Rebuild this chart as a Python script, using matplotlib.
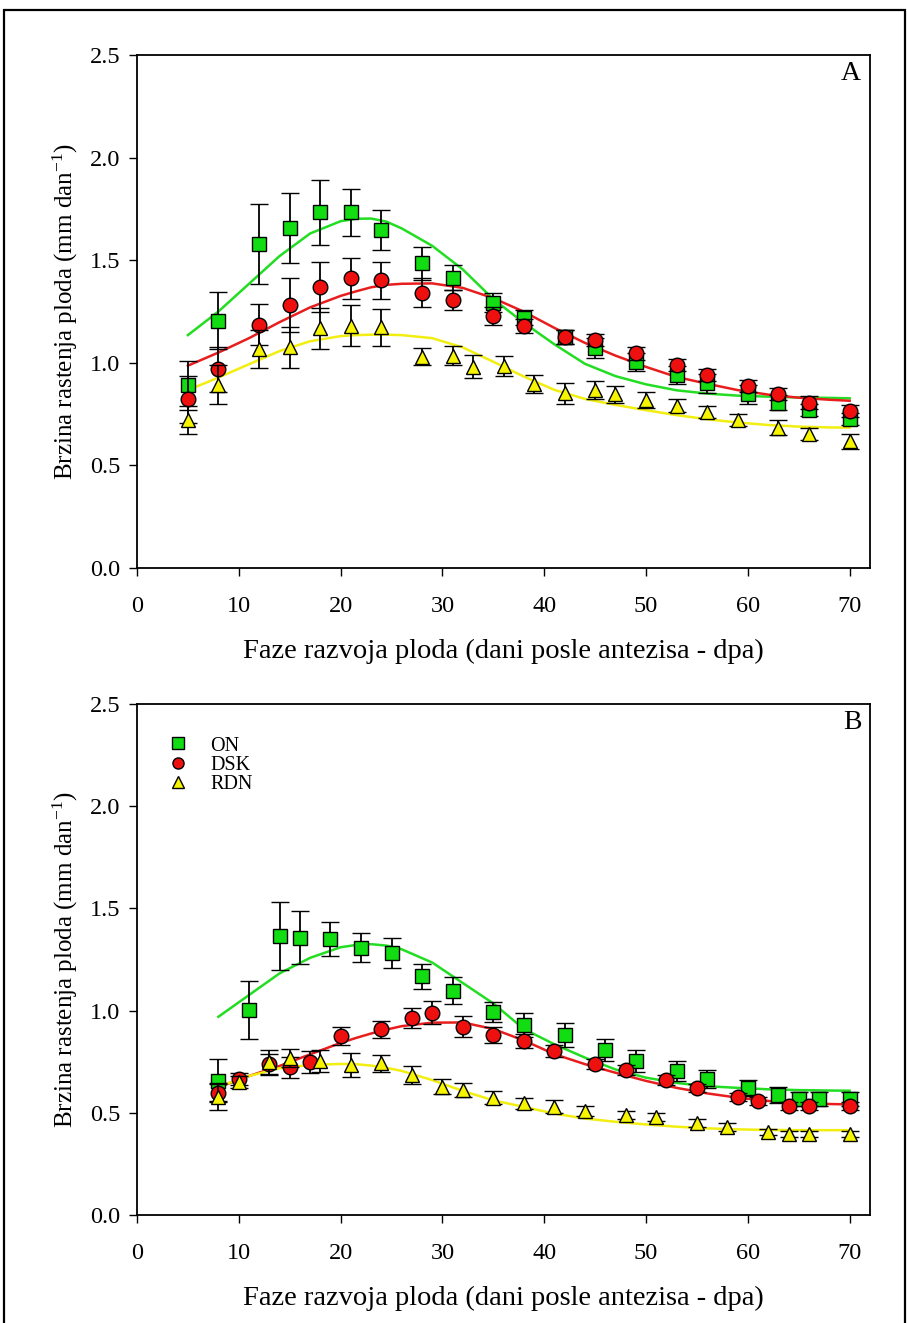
import numpy as np
import matplotlib
matplotlib.use('Agg')
import matplotlib.pyplot as plt
import matplotlib.patches as mpatches
from matplotlib.lines import Line2D

plt.rcParams['font.family'] = ['Liberation Serif', 'DejaVu Serif']
plt.rcParams['mathtext.fontset'] = 'custom'
plt.rcParams['mathtext.rm'] = 'Liberation Serif'
plt.rcParams['mathtext.it'] = 'Liberation Serif:italic'

# ── Panel A data ──────────────────────────────────────────────────────────────
a_on_x = [5, 8, 12, 15, 18, 21, 24, 28, 31, 35, 38, 42, 45, 49, 53, 56, 60, 63, 66, 70]
a_on_y = [0.89, 1.205, 1.58, 1.658, 1.733, 1.733, 1.647, 1.485, 1.415, 1.293, 1.22,
          1.127, 1.071, 1.005, 0.941, 0.90, 0.846, 0.806, 0.77, 0.725]
a_on_e = [0.12, 0.14, 0.195, 0.17, 0.158, 0.113, 0.098, 0.08, 0.062, 0.045, 0.035,
          0.035, 0.05, 0.045, 0.044, 0.046, 0.047, 0.036, 0.03, 0.03]

a_dsk_x = a_on_x
a_dsk_y = [0.822, 0.968, 1.186, 1.282, 1.369, 1.413, 1.402, 1.342, 1.305, 1.228, 1.179,
           1.127, 1.111, 1.046, 0.988, 0.939, 0.888, 0.848, 0.806, 0.764]
a_dsk_e = [0.115, 0.11, 0.1, 0.13, 0.12, 0.1, 0.09, 0.07, 0.05, 0.045, 0.035,
           0.035, 0.03, 0.03, 0.03, 0.03, 0.03, 0.03, 0.03, 0.03]

a_rdn_x = [5, 8, 12, 15, 18, 21, 24, 28, 31, 33, 36, 39, 42, 45, 47, 50, 53, 56, 59, 63, 66, 70]
a_rdn_y = [0.721, 0.892, 1.067, 1.075, 1.168, 1.181, 1.173, 1.03, 1.035, 0.981, 0.984,
           0.897, 0.851, 0.867, 0.846, 0.819, 0.791, 0.759, 0.72, 0.684, 0.653, 0.617]
a_rdn_e = [0.07, 0.095, 0.094, 0.1, 0.1, 0.1, 0.09, 0.04, 0.045, 0.055, 0.048,
           0.045, 0.05, 0.045, 0.04, 0.04, 0.033, 0.03, 0.03, 0.035, 0.03, 0.035]

# fitted curves
a_fit_x = [5, 8, 11, 14, 17, 20, 21.5, 23, 24.5, 26, 29, 32, 35, 38, 41, 44, 47, 50, 53, 56,
           59, 62, 65, 68, 70]
a_fit_on = [1.135, 1.25, 1.385, 1.52, 1.63, 1.69, 1.702, 1.703, 1.688, 1.655, 1.57, 1.455,
            1.31, 1.195, 1.09, 0.995, 0.935, 0.895, 0.866, 0.85, 0.84, 0.835, 0.831, 0.829,
            0.827]
a_fit_dsk = [0.986, 1.05, 1.12, 1.198, 1.27, 1.326, 1.348, 1.368, 1.38, 1.385, 1.387, 1.365,
             1.315, 1.249, 1.17, 1.097, 1.035, 0.98, 0.931, 0.898, 0.867, 0.845, 0.83, 0.82,
             0.815]
a_fit_rdn = [0.867, 0.928, 0.993, 1.057, 1.105, 1.13, 1.135, 1.137, 1.137, 1.135, 1.12, 1.075,
             1.005, 0.933, 0.868, 0.824, 0.795, 0.769, 0.745, 0.725, 0.709, 0.697, 0.689,
             0.685, 0.684]

# ── Panel B data ──────────────────────────────────────────────────────────────
b_on_x = [8, 11, 14, 16, 19, 22, 25, 28, 31, 35, 38, 42, 46, 49, 53, 56, 60, 63, 65, 67, 70]
b_on_y = [0.656, 1.003, 1.365, 1.357, 1.349, 1.308, 1.283, 1.167, 1.097, 0.992, 0.93,
          0.881, 0.807, 0.753, 0.705, 0.665, 0.62, 0.587, 0.566, 0.566, 0.566]
b_on_e = [0.105, 0.14, 0.165, 0.13, 0.083, 0.07, 0.074, 0.06, 0.065, 0.049, 0.057,
          0.06, 0.054, 0.054, 0.049, 0.044, 0.04, 0.038, 0.034, 0.034, 0.034]

b_dsk_x = [8, 10, 13, 15, 17, 20, 24, 27, 29, 32, 35, 38, 41, 45, 48, 52, 55, 59, 61, 64, 66, 70]
b_dsk_y = [0.599, 0.664, 0.737, 0.722, 0.747, 0.876, 0.908, 0.962, 0.99, 0.921, 0.881,
           0.851, 0.804, 0.737, 0.709, 0.66, 0.62, 0.579, 0.559, 0.533, 0.533, 0.533]
b_dsk_e = [0.04, 0.03, 0.05, 0.053, 0.054, 0.045, 0.042, 0.049, 0.058, 0.052, 0.041,
           0.036, 0.03, 0.025, 0.025, 0.025, 0.02, 0.02, 0.02, 0.02, 0.02, 0.02]

b_rdn_x = [8, 10, 13, 15, 18, 21, 24, 27, 30, 32, 35, 38, 41, 44, 48, 51, 55, 58, 62, 64, 66, 70]
b_rdn_y = [0.579, 0.652, 0.75, 0.767, 0.753, 0.734, 0.742, 0.685, 0.628, 0.612, 0.574,
           0.546, 0.53, 0.509, 0.489, 0.481, 0.449, 0.432, 0.405, 0.396, 0.396, 0.396]
b_rdn_e = [0.065, 0.03, 0.058, 0.045, 0.052, 0.057, 0.043, 0.045, 0.037, 0.035, 0.033,
           0.028, 0.031, 0.026, 0.02, 0.02, 0.02, 0.02, 0.015, 0.015, 0.015, 0.015]

b_fit_x = [8, 11, 14, 17, 20, 21.5, 23, 24.5, 26, 29, 32, 35, 38, 41, 44, 47, 50, 53, 56, 59,
           62, 65, 68, 70]
b_fit_on = [0.97, 1.076, 1.182, 1.258, 1.31, 1.321, 1.325, 1.318, 1.30, 1.235, 1.135, 1.035,
            0.91, 0.835, 0.77, 0.712, 0.672, 0.646, 0.63, 0.622, 0.615, 0.611, 0.609, 0.608]
b_fit_dsk = [0.625, 0.68, 0.729, 0.786, 0.842, 0.866, 0.888, 0.907, 0.924, 0.941, 0.942,
             0.91, 0.854, 0.787, 0.738, 0.696, 0.656, 0.622, 0.595, 0.574, 0.558, 0.547,
             0.543, 0.541]
b_fit_rdn = [0.628, 0.68, 0.718, 0.734, 0.739, 0.738, 0.731, 0.72, 0.705, 0.66, 0.607, 0.561,
             0.529, 0.496, 0.472, 0.456, 0.443, 0.432, 0.424, 0.419, 0.416, 0.415, 0.415,
             0.415]

labels = ['ON', 'DSK', 'RDN']

# ── Styles ────────────────────────────────────────────────────────────────────
MK = {'ON':  dict(marker='s', ms=9.5, mfc='#12dd12'),
      'DSK': dict(marker='o', ms=10.5, mfc='#ee0f0f'),
      'RDN': dict(marker='^', ms=10.5, mfc='#f6f400')}
LINE_C = {'ON': '#22dd22', 'DSK': '#e81e1e', 'RDN': '#f2ee10'}

W, H = 907, 1323
fig = plt.figure(figsize=(W / 100, H / 100), dpi=100, facecolor='white')

def px_axes(left, right, top, bottom):
    return fig.add_axes([left / W, 1 - bottom / H, (right - left) / W, (bottom - top) / H])

ax_a = px_axes(137, 870, 55, 568)
ax_b = px_axes(137, 870, 704, 1215)

panels = [
    (ax_a, 'A', a_fit_x, [a_fit_on, a_fit_dsk, a_fit_rdn],
     [(a_on_x, a_on_y, a_on_e), (a_dsk_x, a_dsk_y, a_dsk_e), (a_rdn_x, a_rdn_y, a_rdn_e)]),
    (ax_b, 'B', b_fit_x, [b_fit_on, b_fit_dsk, b_fit_rdn],
     [(b_on_x, b_on_y, b_on_e), (b_dsk_x, b_dsk_y, b_dsk_e), (b_rdn_x, b_rdn_y, b_rdn_e)]),
]

for ax, tag, fx, fits, series in panels:
    for lab, fy in zip(labels, fits):
        ax.plot(fx, fy, color=LINE_C[lab], lw=1.8, zorder=2)
    for k, (lab, (sx, sy, se)) in enumerate(zip(labels, series)):
        ax.errorbar(sx, sy, yerr=se, ls='none', ecolor='black', elinewidth=1.3,
                    capsize=6.5, capthick=1.3, mec='black', mew=1.0,
                    zorder=3 + k, **MK[lab])

    ax.set_xlim(0, 72)
    ax.set_ylim(0, 2.5)
    ax.set_xticks(range(0, 71, 10))
    ax.set_yticks(np.arange(0, 2.51, 0.5))
    ax.yaxis.set_major_formatter(matplotlib.ticker.FormatStrFormatter('%.1f'))
    ax.tick_params(direction='out', length=6, width=1.0, labelsize=17.5)
    ax.tick_params(axis='x', pad=14)
    ax.tick_params(axis='y', pad=6)
    for sp in ax.spines.values():
        sp.set_linewidth(1.3)
    ax.set_xlabel('Faze razvoja ploda (dani posle antezisa - dpa)', fontsize=20.5, labelpad=16)
    ax.set_ylabel('Brzina rastenja ploda (mm dan$^{-1}$)', fontsize=18, labelpad=7)
    ax.text(0.988, 0.988, tag, transform=ax.transAxes, ha='right', va='top', fontsize=20)

# legend (panel B only)
handles = [Line2D([], [], ls='none', mec='black', mew=1.0,
                  **{**MK[lab], 'ms': 8}) for lab in labels]
ax_b.legend(handles, labels, loc='upper left', bbox_to_anchor=(0.018, 0.972),
            frameon=False, fontsize=14.5, handletextpad=1.1, labelspacing=0.0,
            handlelength=1.0)

# outer frame
frame = mpatches.Rectangle((4 / W, -0.01), (905 - 4) / W, 1 - 10 / H + 0.01,
                           fill=False, lw=1.6, edgecolor='black',
                           transform=fig.transFigure, clip_on=False)
fig.add_artist(frame)

fig.savefig('out.png', dpi=100, facecolor='white')
